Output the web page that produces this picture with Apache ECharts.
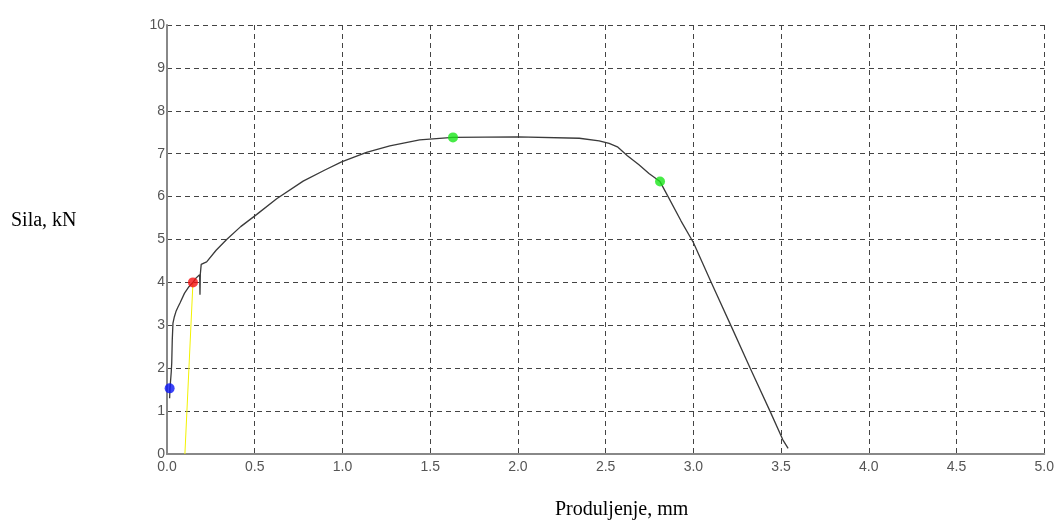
<!DOCTYPE html>
<html>
<head>
<meta charset="utf-8">
<script src="https://cdn.jsdelivr.net/npm/echarts@6/dist/echarts.min.js"></script>
<style>
html,body{margin:0;padding:0;background:#fff;}
#c{width:1057px;height:524px;}
</style>
</head>
<body>
<div id="c"></div>
<script>
// Force–elongation curve (x: mm, y: kN)
var curveX = [0.015,0.017,0.024,0.027,0.030,0.034,0.042,0.051,0.062,0.074,0.100,0.125,0.148,0.165,0.186,0.188,0.190,0.195,0.210,0.226,0.280,0.340,0.420,0.510,0.625,0.776,0.900,0.995,1.137,1.270,1.440,1.630,2.000,2.350,2.463,2.520,2.567,2.624,2.690,2.747,2.810,2.856,2.930,3.000,3.104,3.220,3.326,3.440,3.510,3.540];
var curveY = [1.30,1.53,1.90,2.12,2.66,3.05,3.20,3.32,3.42,3.52,3.75,3.90,4.00,4.10,4.18,3.71,4.20,4.42,4.45,4.48,4.75,5.00,5.30,5.58,5.95,6.36,6.62,6.81,7.03,7.18,7.32,7.38,7.39,7.36,7.30,7.24,7.16,6.95,6.74,6.54,6.35,6.00,5.43,4.93,3.98,2.94,1.98,0.97,0.33,0.13];
// Offset (yield) line
var yellowX = [0.102,0.148];
var yellowY = [0.00,4.00];
// Marked points
var bluePoint = [0.015,1.53];
var redPoint = [0.148,4.00];
var greenX = [1.630,2.810];
var greenY = [7.38,6.35];
// Axis ticks
var xTickMin = 0, xTickMax = 5, xTickStep = 0.5;
var yTickMin = 0, yTickMax = 10, yTickStep = 1;
var xTitle = 'Produljenje, mm';
var yTitle = 'Sila, kN';

function zip(a,b){var r=[];for(var i=0;i<a.length;i++)r.push([a[i],b[i]]);return r;}

var chart = echarts.init(document.getElementById('c'), null, {renderer:'canvas'});
var gridLine = {show:true, lineStyle:{color:'#444', width:1, type:[5,4]}};
chart.setOption({
  animation:false,
  backgroundColor:'#fff',
  grid:{left:167, right:11, top:25, bottom:70, containLabel:false},
  xAxis:{
    type:'value', min:xTickMin, max:xTickMax, interval:xTickStep,
    axisLine:{show:true, onZero:false, lineStyle:{color:'#888', width:2}},
    axisTick:{show:false},
    splitLine:gridLine,
    axisLabel:{margin:6, color:'#555', fontFamily:'Liberation Sans', fontSize:14,
      formatter:function(v){return v.toFixed(1);}}
  },
  yAxis:{
    type:'value', min:yTickMin, max:yTickMax, interval:yTickStep,
    axisLine:{show:true, onZero:false, lineStyle:{color:'#888', width:2}},
    axisTick:{show:false},
    splitLine:gridLine,
    axisLabel:{margin:2, color:'#555', fontFamily:'Liberation Sans', fontSize:14,
      padding:[0,0,9,0]}
  },
  series:[
    {type:'line', data:zip(yellowX,yellowY), showSymbol:false, z:2,
     lineStyle:{color:'#f2f200', width:1}},
    {type:'line', data:zip(curveX,curveY), showSymbol:false, z:3,
     lineStyle:{color:'#3a3a3a', width:1.3}},
    {type:'scatter', data:[bluePoint], symbolSize:10, z:5,
     itemStyle:{color:'#0a14f5'}},
    {type:'scatter', data:[redPoint], symbolSize:10, z:5,
     itemStyle:{color:'#f51010'}},
    {type:'scatter', data:zip(greenX,greenY), symbolSize:10, z:5,
     itemStyle:{color:'#19e619'}}
  ],
  graphic:[
    {type:'text', left:11, top:211,
     style:{text:yTitle, font:'20px "Liberation Serif"', fill:'#000'}},
    {type:'text', left:555, top:500,
     style:{text:xTitle, font:'20px "Liberation Serif"', fill:'#000'}}
  ]
});
</script>
</body>
</html>
